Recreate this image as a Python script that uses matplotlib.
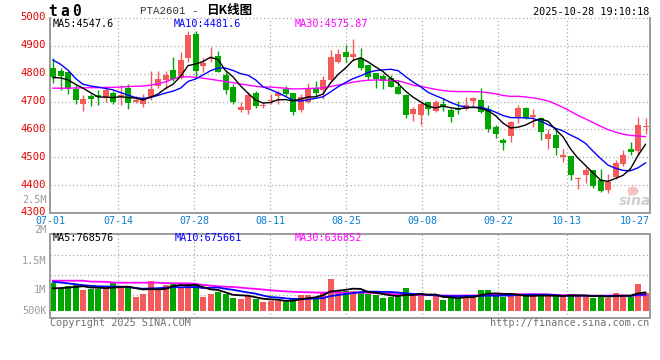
import matplotlib
matplotlib.use("Agg")
import matplotlib.pyplot as plt
import matplotlib.transforms as mtransforms
from matplotlib.patches import Ellipse
import numpy as np

# ---------------- data ----------------
dates = ["07-01","07-02","07-03","07-04","07-07","07-08","07-09","07-10","07-11","07-14",
         "07-15","07-16","07-17","07-18","07-21","07-22","07-23","07-24","07-25","07-28",
         "07-29","07-30","07-31","08-01","08-04","08-05","08-06","08-07","08-08","08-11",
         "08-12","08-13","08-14","08-15","08-18","08-19","08-20","08-21","08-22","08-25",
         "08-26","08-27","08-28","08-29","09-01","09-02","09-03","09-04","09-05","09-08",
         "09-09","09-10","09-11","09-12","09-15","09-16","09-17","09-18","09-19","09-22",
         "09-23","09-24","09-25","09-26","09-29","09-30","10-09","10-10","10-13","10-14",
         "10-15","10-16","10-17","10-20","10-21","10-22","10-23","10-24","10-27","10-28"]

opens = [4822,4810,4805,4745,4691,4720,4724,4712,4732,4718,
         4750,4697,4690,4718,4757,4777,4813,4783,4858,4943,
         4829,4853,4864,4795,4753,4670,4670,4730,4684,4702,
         4721,4745,4730,4670,4700,4750,4742,4777,4843,4879,
         4861,4855,4831,4801,4792,4783,4753,4724,4655,4652,
         4697,4667,4690,4670,4676,4672,4702,4706,4673,4610,
         4562,4578,4640,4678,4646,4640,4566,4580,4502,4504,
         4421,4436,4454,4418,4382,4428,4476,4530,4522,4607]
highs = [4855,4822,4807,4759,4724,4727,4742,4747,4738,4759,
         4762,4720,4727,4810,4810,4810,4859,4879,4953,4954,
         4855,4897,4882,4805,4763,4697,4736,4738,4697,4726,
         4738,4757,4732,4727,4765,4774,4792,4885,4888,4903,
         4925,4893,4831,4801,4798,4795,4777,4727,4682,4697,
         4697,4706,4712,4678,4702,4718,4718,4750,4688,4616,
         4570,4631,4688,4682,4673,4643,4601,4604,4528,4504,
         4430,4466,4454,4458,4439,4490,4526,4556,4646,4642]
lows = [4765,4742,4727,4690,4667,4685,4688,4697,4690,4688,
        4672,4694,4682,4706,4750,4745,4775,4781,4841,4789,
        4805,4843,4805,4727,4690,4664,4654,4678,4676,4690,
        4690,4721,4652,4664,4694,4721,4709,4771,4837,4843,
        4846,4813,4777,4750,4744,4753,4727,4640,4630,4616,
        4652,4664,4666,4628,4655,4670,4682,4658,4590,4570,
        4526,4556,4622,4637,4610,4562,4530,4510,4484,4418,
        4386,4406,4391,4376,4373,4422,4470,4510,4508,4584]
closes = [4789,4792,4745,4706,4709,4708,4715,4742,4697,4724,
          4694,4706,4709,4745,4781,4795,4781,4849,4939,4810,
          4840,4858,4807,4742,4697,4680,4724,4685,4688,4706,
          4730,4726,4664,4718,4745,4732,4777,4861,4870,4861,
          4871,4822,4789,4781,4775,4753,4727,4652,4673,4691,
          4673,4697,4684,4646,4670,4688,4712,4664,4601,4584,
          4552,4625,4678,4640,4652,4592,4584,4532,4508,4436,
          4424,4454,4398,4379,4412,4478,4508,4518,4616,4612]

volumes = [1250000,1027000,1116000,1147000,924000,969000,969000,1027000,1250000,1071000,
           1058000,625000,745000,1326000,1013000,1147000,1250000,1000000,1250000,1147000,
           625000,745000,848000,745000,580000,522000,656000,509000,402000,446000,
           433000,375000,580000,701000,701000,625000,848000,1415000,879000,879000,
           893000,804000,745000,701000,580000,598000,625000,1027000,656000,804000,
           478000,656000,478000,598000,580000,701000,656000,924000,924000,656000,
           598000,656000,745000,656000,656000,656000,656000,701000,625000,745000,
           656000,625000,580000,701000,580000,804000,656000,625000,1192000,804000]

# moving-average values before enough history exists
ma5_head = [4786, 4785, 4778, 4762]
ma10_head = [4849, 4834, 4813, 4783, 4762, 4756, 4752, 4747, 4742]
ma30_head = [4748, 4748, 4748, 4749, 4749, 4750, 4750, 4751, 4751, 4752,
             4754, 4755, 4756, 4759, 4764, 4771, 4781, 4788, 4789, 4787,
             4784, 4780, 4776, 4772, 4768, 4763, 4759, 4755, 4752]
vma5_head = [1000000, 1010000, 1030000, 1060000]
vma10_head = [1290000, 1260000, 1220000, 1180000, 1140000, 1110000, 1090000, 1080000, 1075000]
vma30_head = [1340000, 1340000, 1340000, 1340000, 1340000, 1300000, 1295000, 1290000, 1260000, 1250000,
              1250000, 1250000, 1250000, 1250000, 1250000, 1230000, 1225000, 1223000, 1220000, 1200000,
              1150000, 1120000, 1090000, 1071000, 1060000, 1030000, 1000000, 975000, 945000]

tick_dates = ["07-01", "07-14", "07-28", "08-11", "08-25", "09-08", "09-22", "10-13", "10-27"]
price_ticks = [4300, 4400, 4500, 4600, 4700, 4800, 4900, 5000]
vol_tick_labels = ["2.5M", "2M", "1.5M", "1M", "500K"]

title_code = "PTA2601 -"
title_cn = "日K线图"
stamp = "2025-10-28 19:10:18"
price_ma_text = ["MA5:4547.6", "MA10:4481.6", "MA30:4575.87"]
vol_ma_text = ["MA5:768576", "MA10:675661", "MA30:636852"]

# ---------------- style / layout ----------------
RED = "#F55A5A"
GREEN = "#00A500"
GRID = "#A8A8A8"
FRAME = "#9C9C9C"
MONO = "DejaVu Sans Mono"
W, H = 660, 360
L, R, T, B = 50, 650, 18, 213
VT, VB = 234, 318
VOL_ZERO_PX = 310.7
VOL_PX_PER_M = 22.4
GRID_STEP = 7.6 / 7.5

def fx(px):
    return px / W

def fy(py):
    return 1 - py / H

def moving_avg(vals, n, head):
    vals = np.asarray(vals, dtype=float)
    out = list(head)
    for i in range(len(head), len(vals)):
        out.append(vals[i - n + 1:i + 1].mean())
    return np.array(out)

fig = plt.figure(figsize=(6.6, 3.6), dpi=100)
fig.patch.set_facecolor("white")
ax = fig.add_axes([fx(L), fy(B), (R - L) / W, (B - T) / H])
axv = fig.add_axes([fx(L), fy(VB), (R - L) / W, (VB - VT) / H])

n = len(dates)
x = np.arange(n)
o = np.array(opens); h = np.array(highs); l = np.array(lows); c = np.array(closes)
up = c >= o
cols = np.where(up, RED, GREEN)

# grid
xl0 = -0.4
ax.set_xlim(xl0, xl0 + 80)
axv.set_xlim(xl0, xl0 + 80)
ax.set_ylim(4300, 5000)
for p in price_ticks[1:]:
    ax.axhline(p, color=GRID, lw=0.9, ls=(0, (1, 2)), zorder=0, clip_on=False)
tick_idx = [dates.index(d) for d in tick_dates]
grid_x = [xl0 + i * GRID_STEP for i in tick_idx]
for gx in grid_x[1:-1]:
    ax.axvline(gx, color=GRID, lw=0.9, ls=(0, (1, 2)), zorder=0)
    axv.axvline(gx, color=GRID, lw=0.9, ls=(0, (1, 2)), zorder=0)

# candles
ax.vlines(x, l, h, colors=cols, lw=1.0, zorder=2)
body_b = np.minimum(o, c)
body_h = np.maximum(np.abs(c - o), 3.0)
ax.bar(x, body_h, bottom=body_b, width=0.8, color=cols, linewidth=0, zorder=3)

ax.plot(x, moving_avg(c, 30, ma30_head), color="#FF00FF", lw=1.0, zorder=4)
ax.plot(x, moving_avg(c, 10, ma10_head), color="#0000FF", lw=1.0, zorder=4)
ax.plot(x, moving_avg(c, 5, ma5_head), color="black", lw=1.0, zorder=4)

# volume
axv.set_ylim((VOL_ZERO_PX - VB) / VOL_PX_PER_M * 1e6, (VOL_ZERO_PX - VT) / VOL_PX_PER_M * 1e6)
for py in (255, 275, 295):
    f = (VB - py) / (VB - VT)
    axv.plot([0, 1], [f, f], transform=axv.transAxes, color=GRID, lw=0.9, ls=(0, (1, 2)), zorder=0)
axv.bar(x, volumes, width=0.8, color=cols, linewidth=0, zorder=2)
axv.plot(x, moving_avg(volumes, 30, vma30_head), color="#FF00FF", lw=1.3, zorder=4)
axv.plot(x, moving_avg(volumes, 10, vma10_head), color="#0000FF", lw=1.3, zorder=4)
axv.plot(x, moving_avg(volumes, 5, vma5_head), color="black", lw=1.3, zorder=4)

for a in (ax, axv):
    a.set_xticks([])
    a.tick_params(length=0)
    for s in a.spines.values():
        s.set_color(FRAME)
        s.set_linewidth(1.4)
ax.spines["top"].set_visible(False)
axv.set_yticks([])

ax.set_yticks(price_ticks)
ax.set_yticklabels([str(p) for p in price_ticks], color="#E60000", fontsize=7.6, family=MONO)
ax.tick_params(axis="y", pad=3)
lift = mtransforms.ScaledTranslation(0, 1.6 / 100, fig.dpi_scale_trans)
for lab in ax.get_yticklabels():
    lab.set_transform(lab.get_transform() + lift)

# date labels
for d, gx in zip(tick_dates, grid_x):
    px = L + (gx - xl0) * 7.5
    px = min(px, R - 15)
    fig.text(fx(px), fy(221.3), d, ha="center", va="center", color="#0A7FD0", fontsize=7.2, family=MONO)

# volume axis labels
for lab, py in zip(vol_tick_labels, (200, 230, 260.5, 290.3, 311)):
    fig.text(fx(46.5), fy(py), lab, ha="right", va="center", color="#9A9A9A", fontsize=7.4, family=MONO)

# header
for ch, px in zip("ta0", (52.3, 64.6, 76.3)):
    fig.text(fx(px), fy(11.8), ch, ha="center", va="center", fontsize=10.5, weight="bold", family=MONO, color="black")
fig.text(fx(140), fy(11), title_code, ha="left", va="center", fontsize=7.8, family="Liberation Mono", color="#333333")
fig.text(fx(206), fy(10.5), title_cn, ha="left", va="center", fontsize=9, weight="bold",
         family=["Noto Sans CJK SC", "DejaVu Sans"], color="black")
fig.text(fx(649), fy(12), stamp, ha="right", va="center", fontsize=7.3, family=MONO, color="black")

ma_cols = ["black", "#0000FF", "#FF00FF"]
for txt, px, col in zip(price_ma_text, (53, 174, 295), ma_cols):
    fig.text(fx(px), fy(24), txt, ha="left", va="center", fontsize=7.3, family=MONO, color=col)
for txt, px, col in zip(vol_ma_text, (53, 175, 295), ma_cols):
    fig.text(fx(px), fy(238.3), txt, ha="left", va="center", fontsize=7.3, family=MONO, color=col)

fig.text(fx(50), fy(323), "Copyright 2025 SINA.COM", ha="left", va="center", fontsize=7.3, family=MONO, color="#707070")
fig.text(fx(649), fy(323), "http://finance.sina.com.cn", ha="right", va="center", fontsize=7.3, family=MONO, color="#707070")

# sina watermark
fig.patches.append(Ellipse((fx(633), fy(191)), 11 / W, 9 / H, transform=fig.transFigure,
                           facecolor="#F3C2C2", edgecolor="none", zorder=5))
fig.text(fx(619), fy(201), "sina", ha="left", va="center", fontsize=10, style="italic", weight="bold",
         color="#CFCFCF", family="DejaVu Sans")

fig.savefig("out.png", dpi=100, facecolor="white")
